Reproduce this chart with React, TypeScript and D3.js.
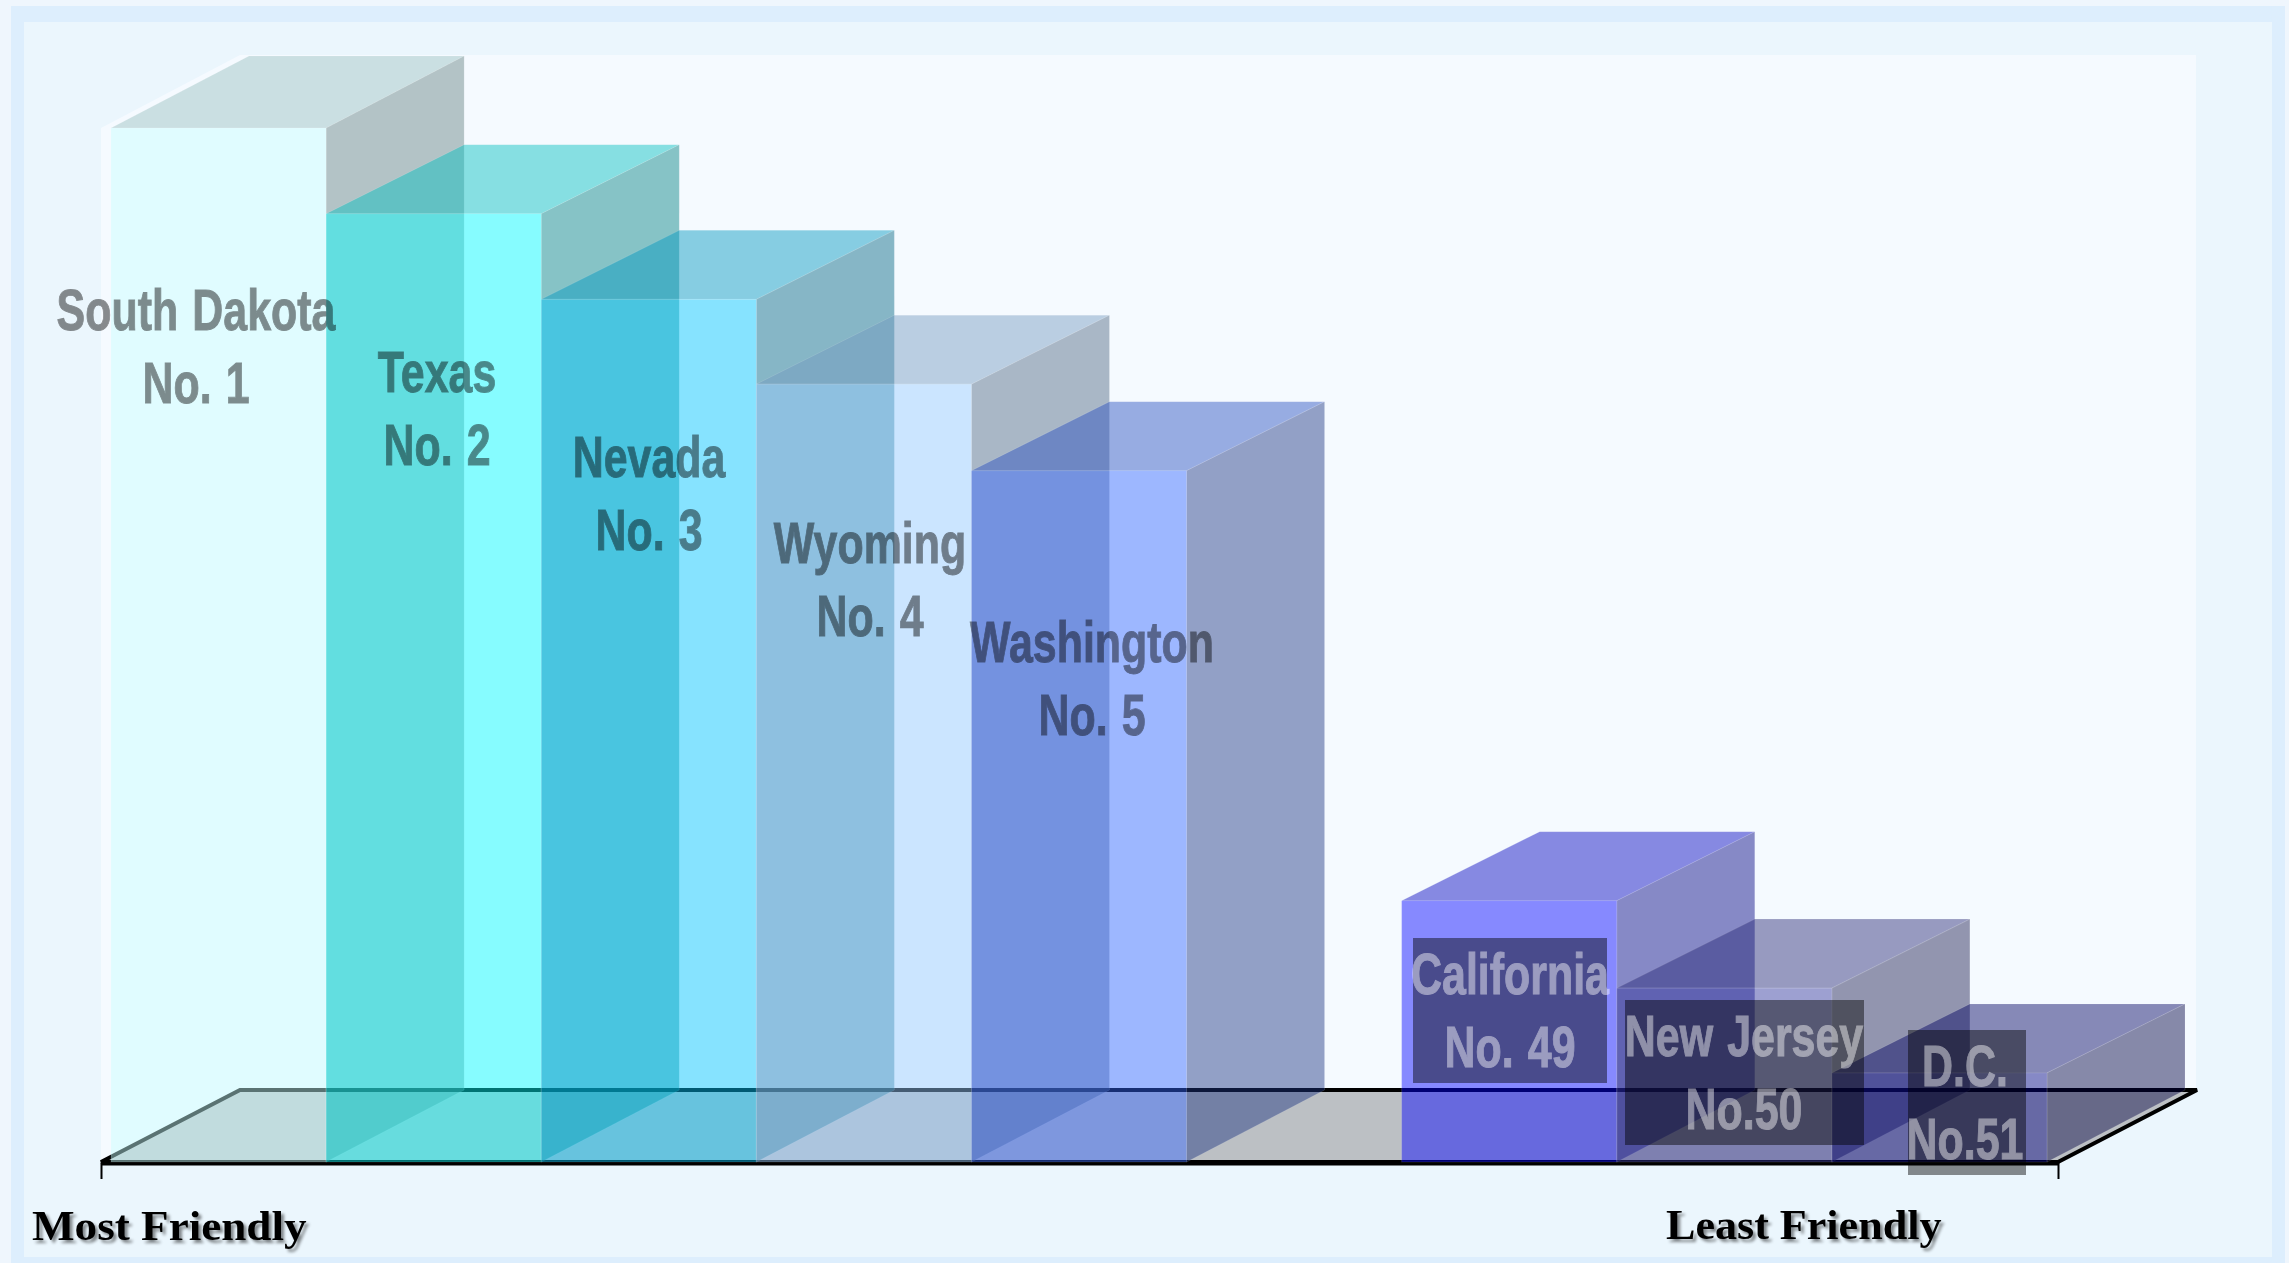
import React, { useEffect, useRef } from 'react'
import * as d3 from 'd3'

// one empty slot keeps the gap between the top five and the bottom three
const slots = ['South Dakota', 'Texas', 'Nevada', 'Wyoming', 'Washington', 'gap', 'California', 'New Jersey', 'D.C.']
const states = ['South Dakota', 'Texas', 'Nevada', 'Wyoming', 'Washington', 'California', 'New Jersey', 'D.C.']
const ranks = ['No. 1', 'No. 2', 'No. 3', 'No. 4', 'No. 5', 'No. 49', 'No.50', 'No.51']
const scores = [12.07, 11.07, 10.07, 9.08, 8.07, 3.05, 2.03, 1.04]
const colors = ['#c8ffff', '#00ffff', '#00c8ff', '#99ccff', '#3366ff', '#0000ff', '#333399', '#000080']
const rankTicks = [1, 51]

const W = 2289
const H = 1263
const DX = 138
const RISE = 69
const FLOOR_RISE = 72
const FACE_ALPHA = 0.45

// label placement, in chart pixels
const labelX = [196, 437, 649, 870, 1092, 1510, 1744, 1965]
const labelY = [330, 392, 477, 563, 662, 994, 1056, 1086]
const LINE = 72.5

const x = d3.scaleBand<string>().domain(slots).range([111, 2047])
const y = d3.scaleLinear().domain([0, d3.max(scores) as number]).range([1162, 128])
const rankScale = d3.scaleLinear().domain([1, 51]).range([101, 2058])

const line = d3.line()

const shade = (c: string, k: number) => {
  const { r, g, b } = d3.rgb(c)
  return d3.rgb(r * k, g * k, b * k).formatHex()
}

// dark plates behind the three bottom labels
const plates = [
  { i: 5, x0: 1413, x1: 1607, y0: 938, y1: 1083 },
  { i: 6, x0: 1625, x1: 1864, y0: 1000, y1: 1145 },
  { i: 7, x0: 1908, x1: 2026, y0: 1030, y1: 1175 }
]

const Bar = ({ i }: { i: number }) => {
  const x0 = x(states[i]) as number
  const x1 = x0 + x.bandwidth()
  const yTop = y(scores[i])
  const rise = i === 0 ? 72 : RISE
  const base = y(0)
  const c = colors[i]
  const top = line([[x0, yTop], [x1, yTop], [x1 + DX, yTop - rise], [x0 + DX, yTop - rise]]) + 'Z'
  const side = line([[x1, yTop], [x1 + DX, yTop - rise], [x1 + DX, base - FLOOR_RISE], [x1, base]]) + 'Z'
  return (
    <g stroke="#fff" strokeOpacity={0.12} strokeWidth={1}>
      <path d={top} fill={shade(c, 0.75)} fillOpacity={FACE_ALPHA} />
      <path d={side} fill={shade(c, 0.5)} fillOpacity={FACE_ALPHA} />
      <rect x={x0} y={yTop} width={x.bandwidth()} height={base - yTop} fill={c} fillOpacity={FACE_ALPHA} />
    </g>
  )
}

const Axis = () => {
  const ref = useRef<SVGGElement>(null)
  useEffect(() => {
    const axis = d3.axisBottom(rankScale).tickValues(rankTicks).tickSize(16).tickSizeOuter(0).tickFormat(() => '')
    const g = d3.select(ref.current as SVGGElement).call(axis)
    g.select('.domain').attr('stroke', '#000').attr('stroke-width', 4)
    g.selectAll('.tick line').attr('stroke', '#000').attr('stroke-width', 2)
  }, [])
  return <g ref={ref} transform={`translate(0,${y(0) + 1})`} />
}

export default function App() {
  const base = y(0)
  const backY = base - FLOOR_RISE
  const xl = rankScale(1)
  const xr = rankScale(51)
  const wall = line([[xl, base], [xl, 128], [xl + 139, 55], [xr + 138, 55], [xr + 138, backY], [xr, base]]) + 'Z'
  const floor = line([[xl, base], [xl + 139, backY], [xr + 139, backY], [xr, base]]) + 'Z'

  return (
    <svg width={W} height={H} style={{ position: 'absolute', left: 0, top: 0, display: 'block' }}>
      <defs>
        <filter id="soft" x="-10%" y="-30%" width="120%" height="170%">
          <feDropShadow dx="3" dy="3" stdDeviation="1.6" floodColor="#000" floodOpacity="0.45" />
        </filter>
      </defs>
      <rect width={W} height={H} fill="#eff6fd" />
      <rect x={11} y={6} width={2285 - 11} height={H - 6} fill="#ddeefd" />
      <rect x={24} y={22} width={2272 - 24} height={1257 - 22} fill="#ebf6fd" />
      <path d={wall} fill="#f5faff" />

      <path d={floor} fill="#000" fillOpacity={0.233} stroke="#000" strokeWidth={4} strokeLinejoin="miter" />
      <Axis />

      {states.map((s, i) => <Bar key={s} i={i} />)}

      {plates.map(p => (
        <rect key={p.i} x={p.x0} y={p.y0} width={p.x1 - p.x0} height={p.y1 - p.y0} fill="#000" fillOpacity={0.45} />
      ))}

      {states.map((s, i) => {
        const ink = i >= 5 ? '#fff' : '#000'
        return (
          <g key={s} fill={ink} stroke={ink} strokeWidth={1} opacity={0.45} textAnchor="middle"
            fontFamily="'Liberation Sans', Arial, sans-serif" fontWeight="bold" fontSize={58} wordSpacing={3}>
            <text transform={`translate(${labelX[i]},${labelY[i]}) scale(0.74,1)`}>{s}</text>
            <text transform={`translate(${labelX[i]},${labelY[i] + LINE}) scale(0.74,1)`}>{ranks[i]}</text>
          </g>
        )
      })}

      <g fontFamily="'Liberation Serif', serif" fontWeight="bold" fontSize={42} fill="#000" filter="url(#soft)">
        <text transform="translate(32,1240) scale(1.075,1)">Most Friendly</text>
        <text transform="translate(1666,1239) scale(1.05,1)">Least Friendly</text>
      </g>
    </svg>
  )
}
